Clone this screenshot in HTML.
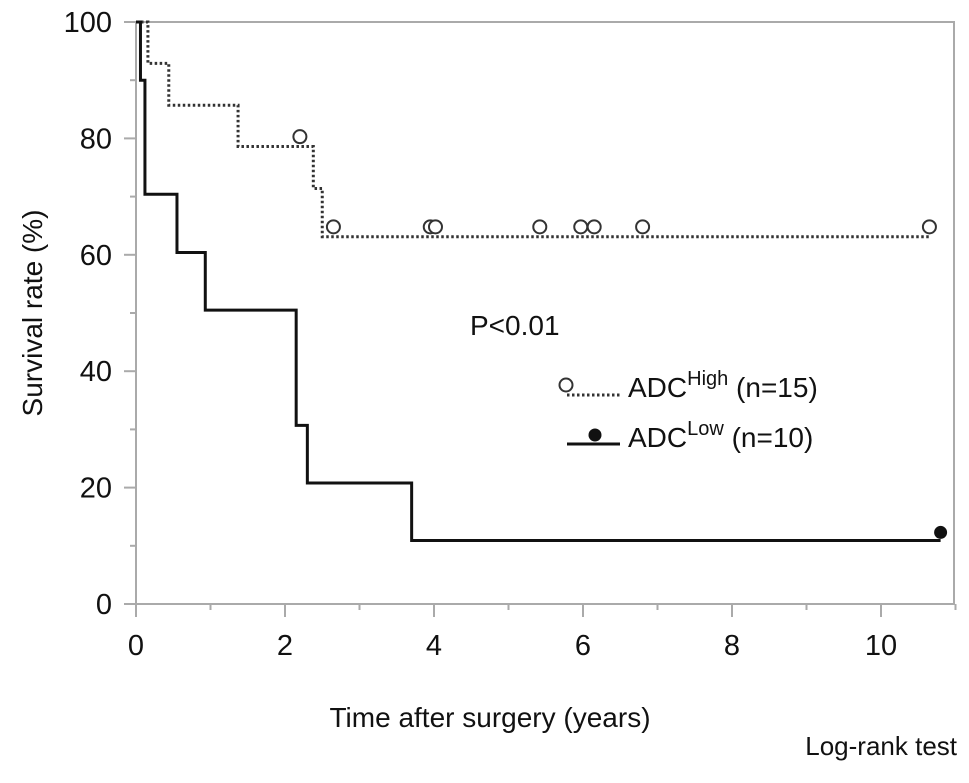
<!DOCTYPE html>
<html><head><meta charset="utf-8"><style>
body{margin:0;background:#fff}
svg text{font-family:"Liberation Sans",Arial,sans-serif;fill:#111}
</style></head><body>
<svg id="c" width="969" height="778" viewBox="0 0 969 778" xmlns="http://www.w3.org/2000/svg">
<rect x="136" y="22" width="818" height="582" fill="none" stroke="#aaa" stroke-width="2"/>
<g id="ticks"></g>
<g id="series"></g>
<text x="490" y="727" font-size="28" text-anchor="middle">Time after surgery (years)</text>
<text transform="translate(42,313) rotate(-90)" font-size="28" text-anchor="middle">Survival rate (%)</text>
<text x="470" y="335" font-size="28">P&lt;0.01</text>
<text x="957" y="755" font-size="26" text-anchor="end">Log-rank test</text>
<g>
<line x1="567" y1="395" x2="620" y2="395" stroke="#333" stroke-width="3" stroke-dasharray="2.5,2.5"/>
<circle cx="566" cy="385" r="6.5" fill="#fff" stroke="#333" stroke-width="2"/>
<text x="628" y="397" font-size="28">ADC<tspan dy="-12" font-size="20">High</tspan><tspan dy="12"> (n=15)</tspan></text>
<line x1="567" y1="444" x2="620" y2="444" stroke="#111" stroke-width="3"/>
<circle cx="595" cy="435" r="6.5" fill="#111"/>
<text x="628" y="447" font-size="28">ADC<tspan dy="-12" font-size="20">Low</tspan><tspan dy="12"> (n=10)</tspan></text>
</g>
</svg>
<script>
const xTicks=[0,2,4,6,8,10];
const yTicks=[0,20,40,60,80,100];
const highTimes=[0,0.16,0.44,1.37,2.38,2.5,10.65];
const highSurv=[100,92.9,85.7,78.6,71.4,63.1,63.1];
const highCensorT=[2.2,2.65,3.95,4.02,5.42,5.97,6.15,6.8,10.65];
const highCensorS=[80.3,64.8,64.8,64.8,64.8,64.8,64.8,64.8,64.8];
const lowTimes=[0,0.06,0.12,0.55,0.93,2.15,2.3,3.7,10.8];
const lowSurv=[100,90,70.4,60.4,50.5,30.7,20.8,10.9,10.9];
const lowCensorT=[10.8];
const lowCensorS=[12.3];
const X=t=>136+t*74.5, Y=s=>604-s*5.82;
const NS='http://www.w3.org/2000/svg';
const tg=document.getElementById('ticks'), sg=document.getElementById('series');
function mk(tag,at,par){const e=document.createElementNS(NS,tag);for(const k in at)e.setAttribute(k,at[k]);par.appendChild(e);return e;}
for(let i=0;i<=11;i++){const l=mk('line',{x1:X(i),x2:X(i),y1:604,y2:i%2?610:617,stroke:'#aaa','stroke-width':2},tg);

}
xTicks.forEach(t=>{const e=mk('text',{x:X(t),y:655,'font-size':29,'text-anchor':'middle'},tg);e.textContent=t;

});
for(let v=0;v<=100;v+=10){const l=mk('line',{x1:v%20?130:124,x2:136,y1:Y(v),y2:Y(v),stroke:'#aaa','stroke-width':2},tg);

}
yTicks.forEach(v=>{const e=mk('text',{x:112,y:Y(v)+10,'font-size':29,'text-anchor':'end'},tg);e.textContent=v;

});
function step(ts,ss){let d='M'+X(ts[0])+','+Y(ss[0]);for(let i=1;i<ts.length;i++){d+=' H'+X(ts[i])+' V'+Y(ss[i]);}return d;}
const hp=mk('path',{d:step(highTimes,highSurv),fill:'none',stroke:'#333','stroke-width':3,'stroke-dasharray':'2.5,2.5'},sg);


const lp=mk('path',{d:step(lowTimes,lowSurv),fill:'none',stroke:'#111','stroke-width':3},sg);


highCensorT.forEach((t,i)=>{const c=mk('circle',{cx:X(t),cy:Y(highCensorS[i]),r:6.5,fill:'#fff',stroke:'#333','stroke-width':2},sg);

});
lowCensorT.forEach((t,i)=>{const c=mk('circle',{cx:X(t),cy:Y(lowCensorS[i]),r:6.5,fill:'#111'},sg);

});
</script>
</body></html>
